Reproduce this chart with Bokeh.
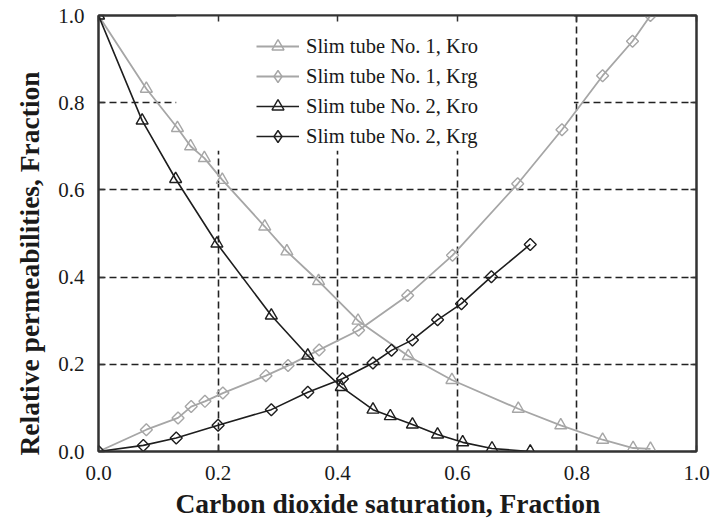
import numpy as np
from bokeh.plotting import figure
from bokeh.models import Range1d, LinearAxis, BoxAnnotation, Legend, LegendItem, FixedTicker, Title
from bokeh.embed import file_html
from bokeh.resources import INLINE

# ---- data ----
t1_kro_x = [0.0, 0.080, 0.132, 0.154, 0.177, 0.207, 0.278, 0.315, 0.368, 0.434, 0.518, 0.591, 0.702, 0.773, 0.843, 0.894, 0.923]
t1_kro_y = [1.0, 0.832, 0.742, 0.700, 0.673, 0.623, 0.516, 0.459, 0.391, 0.300, 0.219, 0.164, 0.098, 0.060, 0.027, 0.008, 0.006]

t1_krg_x = [0.0, 0.080, 0.133, 0.155, 0.178, 0.208, 0.280, 0.317, 0.369, 0.435, 0.517, 0.592, 0.701, 0.775, 0.843, 0.893, 0.923]
t1_krg_y = [0.0, 0.050, 0.077, 0.103, 0.115, 0.134, 0.174, 0.197, 0.233, 0.278, 0.358, 0.450, 0.614, 0.738, 0.862, 0.941, 1.0]

t2_kro_x = [0.0, 0.073, 0.129, 0.198, 0.289, 0.350, 0.406, 0.459, 0.488, 0.525, 0.567, 0.609, 0.658, 0.722]
t2_kro_y = [1.0, 0.759, 0.625, 0.477, 0.312, 0.220, 0.148, 0.096, 0.081, 0.062, 0.039, 0.021, 0.007, 0.0]

t2_krg_x = [0.0, 0.075, 0.130, 0.200, 0.289, 0.350, 0.408, 0.459, 0.490, 0.525, 0.567, 0.607, 0.657, 0.722]
t2_krg_y = [0.0, 0.014, 0.031, 0.060, 0.096, 0.136, 0.167, 0.203, 0.232, 0.256, 0.302, 0.339, 0.401, 0.475]

tick_values = [0.0, 0.2, 0.4, 0.6, 0.8, 1.0]
tick_labels = ["0.0", "0.2", "0.4", "0.6", "0.8", "1.0"]
grid_values = [0.2, 0.4, 0.6, 0.8]

series_labels = ["Slim tube No. 1, Kro", "Slim tube No. 1, Krg",
                 "Slim tube No. 2, Kro", "Slim tube No. 2, Krg"]
x_title = "Carbon dioxide saturation, Fraction"
y_title = "Relative permeabilities, Fraction"

# ---- styling ----
FONT = "Liberation Serif"
GRAY = "#a6a6a6"
BLACK = "#1e1e1e"
TXT = "#1a1a1a"

p = figure(width=712, height=525, x_range=Range1d(0, 1), y_range=Range1d(0, 1),
           output_backend="svg", toolbar_location=None,
           min_border_left=97, min_border_right=16, min_border_top=15, min_border_bottom=74)
p.background_fill_color = "white"
p.border_fill_color = "white"
p.outline_line_color = "#333333"
p.outline_line_width = 2

# grid
for g in (p.xgrid[0], p.ygrid[0]):
    g.ticker = FixedTicker(ticks=grid_values)
    g.grid_line_color = "#222222"
    g.grid_line_dash = "7 4"
    g.grid_line_width = 1.6

# white area behind the legend (covers grid, under data)
p.add_layout(BoxAnnotation(left=0.13, right=0.795, bottom=0.69, top=1.0,
                           fill_color="white", fill_alpha=1.0, line_alpha=0.0,
                           level="underlay"))

def style_axis(ax, show_labels=True):
    ax.ticker = FixedTicker(ticks=tick_values)
    ax.axis_line_color = "#333333"
    ax.axis_line_width = 2
    ax.major_tick_in = 6
    ax.major_tick_out = 0
    ax.major_tick_line_color = "#333333"
    ax.major_tick_line_width = 1.5
    ax.minor_tick_line_color = None
    ax.major_label_text_font = FONT
    ax.major_label_text_color = TXT
    ax.major_label_text_font_size = "21px"
    if show_labels:
        ax.major_label_overrides = {v: s for v, s in zip(tick_values, tick_labels)}
    else:
        ax.major_label_overrides = {v: "" for v in tick_values}
        ax.major_label_standoff = 0

style_axis(p.xaxis[0])
style_axis(p.yaxis[0])
p.xaxis[0].major_label_standoff = 14
p.yaxis[0].major_label_standoff = 14

top_ax = LinearAxis()
style_axis(top_ax, show_labels=False)
p.add_layout(top_ax, "above")
right_ax = LinearAxis()
style_axis(right_ax, show_labels=False)
p.add_layout(right_ax, "right")

# axis titles as side titles (allows offset along the axis)
xt = Title(text=x_title, align="left", offset=77, standoff=6,
           text_font=FONT, text_font_style="bold", text_font_size="27.5px",
           text_color=TXT)
p.add_layout(xt, "below")
yt = Title(text=y_title, align="left", offset=-4, standoff=22,
           text_font=FONT, text_font_style="bold", text_font_size="27.5px",
           text_color=TXT)
p.add_layout(yt, "left")

# ---- series ----
items = []
specs = [
    (t1_kro_x, t1_kro_y, GRAY, "triangle", 12, 0.0, 1.8, "triangle"),
    (t1_krg_x, t1_krg_y, GRAY, "square", 8.5, 0.785398, 1.8, "diamond"),
    (t2_kro_x, t2_kro_y, BLACK, "triangle", 12, 0.0, 1.6, "triangle"),
    (t2_krg_x, t2_krg_y, BLACK, "square", 8.5, 0.785398, 1.6, "diamond"),
]
for (xs, ys, col, mk, sz, ang, lw, leg_mk), lab in zip(specs, series_labels):
    r1 = p.line(xs, ys, line_color=col, line_width=lw)
    r2 = p.scatter(xs, ys, marker=mk, size=sz, angle=ang, line_color=col,
                   line_width=1.4, fill_color="white", fill_alpha=0.0)
    if leg_mk == mk:
        items.append(LegendItem(label=lab, renderers=[r1, r2]))
    else:
        # legend-only marker (empty data) so the key shows a diamond
        r3 = p.scatter(np.array([np.nan]), np.array([np.nan]), marker=leg_mk, size=sz,
                       line_color=col, line_width=1.4, fill_color="white", fill_alpha=0.0)
        items.append(LegendItem(label=lab, renderers=[r1, r3]))

legend = Legend(items=items, location=(158, 300))
legend.background_fill_alpha = 0.0
legend.border_line_color = None
legend.label_text_font = FONT
legend.label_text_font_size = "20.5px"
legend.label_text_color = TXT
legend.glyph_width = 43
legend.glyph_height = 30
legend.label_height = 30
legend.label_standoff = 7
legend.spacing = 0
legend.padding = 0
legend.margin = 0
p.add_layout(legend, "center")

open("out.html", "w").write(file_html(p, INLINE))
